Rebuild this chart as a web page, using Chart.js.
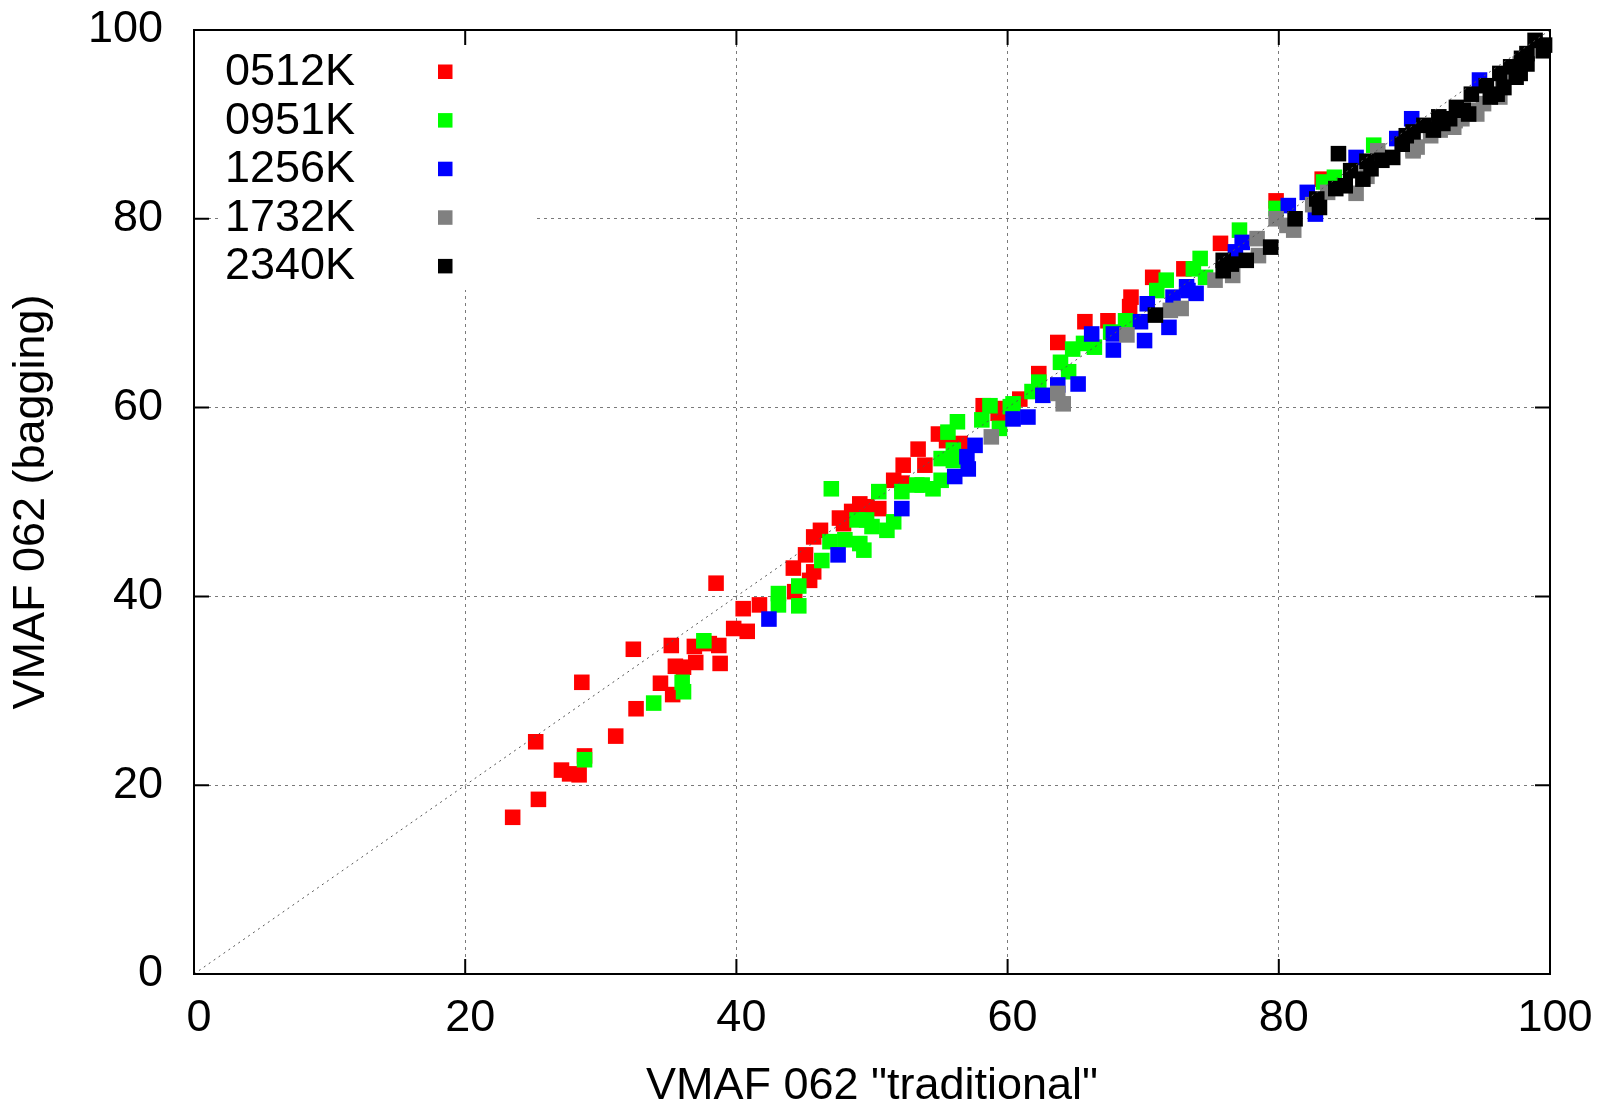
<!DOCTYPE html>
<html>
<head>
<meta charset="utf-8">
<title>VMAF 062 bagging vs traditional</title>
<script src="https://cdn.jsdelivr.net/npm/chart.js@4.4.0/dist/chart.umd.min.js"></script>
<style>
  html, body { margin: 0; padding: 0; background: #fff; }
  canvas { display: block; }
</style>
</head>
<body>
<canvas id="vmafChart" width="1597" height="1106"></canvas>
<script>
// one series per encoding bitrate
const bitrates = ['0512K', '0951K', '1256K', '1732K', '2340K'];
const colours = ['#ff0000', '#00ff00', '#0000ff', '#808080', '#000000'];
const axisTicks = [0, 20, 40, 60, 80, 100];

// x = VMAF "traditional", y = VMAF bagging
const x512 = [23.5, 25.2, 25.4, 27.1, 27.7, 28.4, 28.8, 28.6, 31.1, 32.4, 32.6, 34.4, 35.3, 35.5, 36.1, 37.0, 35.2, 36.9, 38.0, 38.7, 38.8, 38.5, 39.8, 40.8, 40.5, 41.7, 44.3, 44.2, 45.1, 45.7, 45.4, 46.2, 45.7, 47.6, 47.9, 48.5, 49.1, 49.6, 50.5, 52.2, 51.6, 52.3, 53.4, 53.9, 54.9, 55.5, 56.5, 58.2, 59.3, 59.4, 60.9, 62.3, 63.7, 65.7, 67.4, 69.0, 69.1, 70.7, 73.0, 75.7, 79.8, 83.2];
const y512 = [16.6, 24.6, 18.5, 21.6, 21.2, 21.1, 23.1, 30.9, 25.2, 34.4, 28.1, 30.8, 29.6, 32.6, 32.5, 33.0, 34.8, 34.7, 35.0, 34.8, 32.9, 41.4, 36.6, 36.3, 38.7, 39.1, 40.5, 43.0, 44.4, 42.6, 41.7, 47.0, 46.3, 48.3, 47.7, 49.0, 49.8, 49.5, 49.3, 52.0, 52.3, 53.9, 55.6, 53.9, 57.2, 56.5, 56.2, 60.2, 59.4, 59.9, 60.9, 63.6, 66.9, 69.1, 69.2, 70.7, 71.7, 73.8, 74.7, 77.4, 81.9, 84.2];

const x951 = [28.8, 33.9, 36.0, 36.1, 37.6, 43.1, 43.1, 44.6, 44.6, 46.3, 46.9, 48.0, 49.4, 49.1, 49.6, 48.9, 50.0, 47.0, 51.1, 51.6, 50.5, 52.2, 53.3, 53.7, 54.5, 55.1, 55.6, 56.3, 55.1, 56.0, 58.1, 58.7, 59.4, 60.2, 60.4, 61.8, 62.3, 64.5, 63.9, 64.8, 65.6, 66.4, 67.6, 68.7, 71.0, 71.7, 73.7, 74.2, 74.6, 77.1, 79.8, 83.3, 84.1, 87.0, 56.0];
const y951 = [22.7, 28.7, 30.9, 29.9, 35.3, 40.3, 39.1, 41.1, 39.0, 43.8, 45.8, 46.0, 44.9, 45.6, 48.1, 48.1, 47.4, 51.4, 47.0, 47.9, 51.1, 51.1, 51.8, 51.8, 51.4, 52.3, 57.4, 58.5, 54.6, 55.5, 58.7, 60.2, 57.8, 60.1, 60.4, 61.7, 62.7, 63.8, 64.8, 66.2, 66.8, 66.4, 68.0, 69.2, 72.4, 73.5, 74.7, 75.8, 73.8, 78.8, 81.1, 83.9, 84.4, 87.8, 54.4];

const x1256 = [42.4, 47.5, 52.2, 56.1, 57.0, 57.1, 57.6, 60.4, 61.5, 62.6, 63.7, 65.2, 66.2, 67.8, 67.8, 69.8, 70.1, 70.3, 71.9, 72.2, 73.2, 73.3, 73.9, 76.8, 77.3, 80.7, 82.1, 82.7, 85.7, 88.7, 89.8, 94.8];
const y1256 = [37.6, 44.4, 49.3, 52.7, 54.8, 53.5, 56.0, 58.8, 59.0, 61.3, 62.4, 62.5, 67.8, 66.1, 67.8, 69.1, 67.1, 71.0, 68.5, 71.7, 72.8, 72.4, 72.1, 76.5, 77.5, 81.4, 82.8, 80.5, 86.5, 88.5, 90.6, 94.7];

const x1732 = [58.8, 63.7, 64.1, 68.8, 72.0, 72.8, 75.3, 76.6, 78.4, 78.5, 79.8, 80.6, 81.1, 82.5, 83.6, 85.7, 86.5, 87.3, 89.9, 89.9, 90.2, 91.2, 91.9, 92.9, 93.0, 93.5, 94.3, 94.6, 95.1, 96.3, 96.5, 97.8];
const y1732 = [56.9, 61.5, 60.4, 67.7, 70.3, 70.5, 73.5, 74.0, 77.9, 76.1, 80.0, 79.3, 78.8, 81.5, 82.8, 82.7, 84.5, 87.2, 87.4, 87.2, 87.6, 88.8, 89.4, 89.7, 90.4, 90.6, 91.5, 91.1, 92.2, 92.9, 94.0, 96.4];

const x2340 = [70.9, 75.9, 75.9, 76.5, 77.6, 79.4, 81.2, 82.8, 83.0, 84.2, 84.4, 84.9, 85.3, 86.2, 86.5, 86.8, 87.6, 88.4, 89.1, 89.4, 89.9, 90.7, 91.4, 91.8, 92.1, 92.6, 93.1, 93.6, 94.0, 94.2, 95.3, 95.6, 96.1, 96.3, 96.6, 97.1, 97.5, 97.8, 98.3, 98.3, 98.9, 99.5, 99.6, 97.9];
const y2340 = [69.8, 75.6, 74.5, 75.2, 75.6, 77.0, 80.0, 82.1, 81.2, 83.2, 86.9, 83.5, 85.1, 84.2, 86.1, 85.3, 86.2, 86.5, 87.9, 88.8, 89.2, 89.9, 89.4, 90.8, 90.1, 90.6, 91.8, 91.5, 91.1, 93.2, 94.1, 92.9, 93.2, 95.4, 93.9, 96.1, 95.0, 95.4, 96.4, 97.5, 98.9, 97.8, 98.4, 97.0];

const seriesX = [x512, x951, x1256, x1732, x2340];
const seriesY = [y512, y951, y1256, y1732, y2340];

const FONT = '"Liberation Sans", Arial, Helvetica, sans-serif';
Chart.defaults.font.family = FONT;
Chart.defaults.color = '#000';

const pairs = (xs, ys) => xs.map((x, i) => ({ x: x, y: ys[i] }));

// squares; first series at the bottom, last on top
const datasets = bitrates.map((name, i) => ({
  label: name,
  data: pairs(seriesX[i], seriesY[i]),
  pointStyle: 'rect',
  pointRadius: 11,
  pointHoverRadius: 11,
  pointBorderWidth: 0,
  backgroundColor: colours[i],
  borderColor: colours[i],
  order: bitrates.length - i,
  clip: false
}));

// y = x reference line, drawn over the points
datasets.push({
  label: 'y=x',
  data: [{ x: axisTicks[0], y: axisTicks[0] }, { x: axisTicks[axisTicks.length - 1], y: axisTicks[axisTicks.length - 1] }],
  showLine: true,
  pointRadius: 0,
  borderColor: '#555',
  borderWidth: 1,
  borderDash: [2, 4],
  order: 0
});

// frame, inward tick marks and the opaque key
const framePlugin = {
  id: 'frame',
  afterDraw(chart) {
    const { ctx, chartArea: a, scales } = chart;
    ctx.save();

    // key background hides the grid behind it
    ctx.fillStyle = '#fff';
    ctx.fillRect(a.left + 28, a.top + 10, 312, 250);

    ctx.font = '45px ' + FONT;
    ctx.textAlign = 'right';
    ctx.textBaseline = 'middle';
    bitrates.forEach((name, i) => {
      const y = a.top + 41.5 + i * 48.6;
      ctx.fillStyle = '#000';
      ctx.fillText(name, a.left + 161, y + 1);
      ctx.fillStyle = colours[i];
      ctx.fillRect(a.left + 244, y - 7, 14.5, 14.5);
    });

    ctx.strokeStyle = '#000';
    ctx.lineWidth = 2;
    ctx.beginPath();
    axisTicks.forEach(v => {
      const px = scales.x.getPixelForValue(v);
      const py = scales.y.getPixelForValue(v);
      ctx.moveTo(px, a.bottom); ctx.lineTo(px, a.bottom - 15);
      ctx.moveTo(px, a.top); ctx.lineTo(px, a.top + 15);
      ctx.moveTo(a.left, py); ctx.lineTo(a.left + 15, py);
      ctx.moveTo(a.right, py); ctx.lineTo(a.right - 15, py);
    });
    ctx.stroke();

    ctx.strokeRect(a.left, a.top, a.right - a.left, a.bottom - a.top);
    ctx.restore();
  }
};

const gridColour = ctx => (ctx.tick && (ctx.tick.value === 0 || ctx.tick.value === 100)) ? 'rgba(0,0,0,0)' : '#7a7a7a';

new Chart(document.getElementById('vmafChart'), {
  type: 'scatter',
  data: { datasets: datasets },
  options: {
    responsive: false,
    devicePixelRatio: 1,
    animation: false,
    layout: { padding: { top: 30, right: 47, bottom: 0, left: 0 } },
    plugins: {
      legend: { display: false },
      tooltip: { enabled: false }
    },
    scales: {
      x: {
        type: 'linear',
        min: 0,
        max: 100,
        afterFit(scale) {
          scale.height = 132;
          scale.paddingLeft = 0;
          scale.paddingRight = 0;
        },
        afterBuildTicks(scale) { scale.ticks = axisTicks.map(v => ({ value: v })); },
        ticks: { font: { size: 45 }, color: '#000', padding: 18, labelOffset: 5, maxRotation: 0 },
        grid: { color: gridColour, lineWidth: 1, drawTicks: false },
        border: { display: false, dash: [3, 4] },
        title: {
          display: true,
          text: 'VMAF 062 "traditional"',
          color: '#000',
          font: { size: 45, lineHeight: 1 },
          padding: { top: 0, bottom: -3 }
        }
      },
      y: {
        type: 'linear',
        min: 0,
        max: 100,
        afterFit(scale) {
          scale.width = 194;
          scale.paddingTop = 0;
          scale.paddingBottom = 0;
        },
        afterBuildTicks(scale) { scale.ticks = axisTicks.map(v => ({ value: v })); },
        ticks: { font: { size: 45 }, color: '#000', padding: 31 },
        grid: { color: gridColour, lineWidth: 1, drawTicks: false },
        border: { display: false, dash: [3, 4] },
        title: {
          display: true,
          text: 'VMAF 062 (bagging)',
          color: '#000',
          font: { size: 45 },
          padding: { top: 5, bottom: 0 }
        }
      }
    }
  },
  plugins: [framePlugin]
});
</script>
</body>
</html>
